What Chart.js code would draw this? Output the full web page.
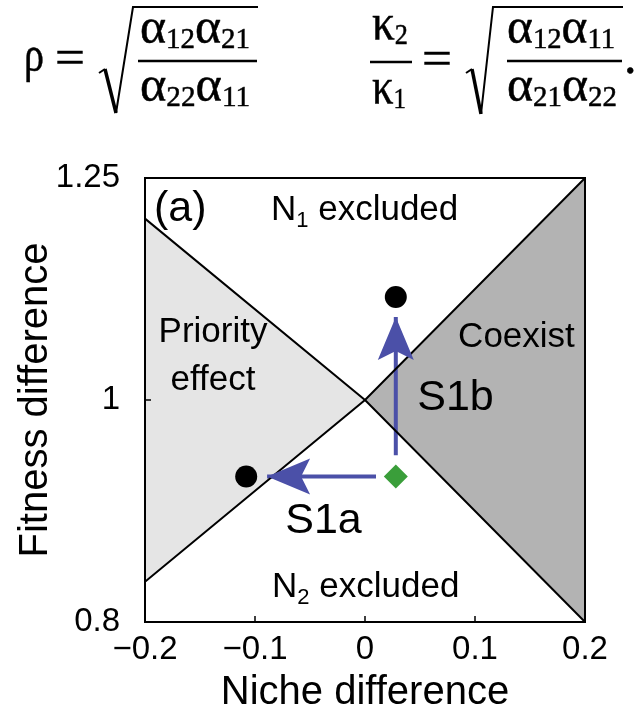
<!DOCTYPE html>
<html>
<head>
<meta charset="utf-8">
<script src="https://cdn.jsdelivr.net/npm/chart.js@4.4.0/dist/chart.umd.min.js"></script>
<style>
  html, body { margin: 0; padding: 0; background: #fff; }
  #wrap { position: relative; width: 641px; height: 717px; overflow: hidden; }
  #chart, #eq { position: absolute; left: 0; top: 0; }
  .m { font-family: 'Liberation Serif', 'Times New Roman', serif; font-size: 50px; fill: #000; stroke: #000; stroke-width: 0.5; }
  .s { font-size: 29px; }
</style>
</head>
<body>
<div id="wrap">
  <canvas id="chart" width="641" height="717"></canvas>
  <svg id="eq" width="641" height="150">
    <!-- rho = sqrt(a12 a21 / a22 a11) -->
    <text class="m" x="24" y="71" textLength="20" lengthAdjust="spacingAndGlyphs">ρ</text>
    <text class="m" x="55" y="74" textLength="30" lengthAdjust="spacingAndGlyphs">=</text>
    <path d="M99,73 L105,69" stroke="#000" stroke-width="2" fill="none"/>
    <path d="M105,69 L116,113" stroke="#000" stroke-width="3.5" fill="none"/>
    <path d="M116,113 L133,7 L258,7" stroke="#000" stroke-width="2" fill="none"/>
    <text class="m" x="140" y="43" textLength="110" lengthAdjust="spacingAndGlyphs">α<tspan class="s" dy="5">12</tspan><tspan dy="-5">α</tspan><tspan class="s" dy="5">21</tspan></text>
    <line x1="138" y1="61" x2="257" y2="61" stroke="#000" stroke-width="2.4"/>
    <text class="m" x="140" y="101" textLength="110" lengthAdjust="spacingAndGlyphs">α<tspan class="s" dy="5">22</tspan><tspan dy="-5">α</tspan><tspan class="s" dy="5">11</tspan></text>

    <!-- kappa2/kappa1 = sqrt(a12 a11 / a21 a22). -->
    <text class="m" x="372" y="39" textLength="36" lengthAdjust="spacingAndGlyphs">κ<tspan class="s" dy="5">2</tspan></text>
    <line x1="370" y1="62" x2="412" y2="62" stroke="#000" stroke-width="2.4"/>
    <text class="m" x="372" y="103" textLength="34" lengthAdjust="spacingAndGlyphs">κ<tspan class="s" dy="5">1</tspan></text>
    <text class="m" x="422" y="75" textLength="30" lengthAdjust="spacingAndGlyphs">=</text>
    <path d="M466,73 L472,69" stroke="#000" stroke-width="2" fill="none"/>
    <path d="M472,69 L481,114" stroke="#000" stroke-width="3.5" fill="none"/>
    <path d="M481,114 L493,7 L623,7" stroke="#000" stroke-width="2" fill="none"/>
    <text class="m" x="507" y="43" textLength="108" lengthAdjust="spacingAndGlyphs">α<tspan class="s" dy="5">12</tspan><tspan dy="-5">α</tspan><tspan class="s" dy="5">11</tspan></text>
    <line x1="507" y1="61" x2="622" y2="61" stroke="#000" stroke-width="2.4"/>
    <text class="m" x="507" y="101" textLength="110" lengthAdjust="spacingAndGlyphs">α<tspan class="s" dy="5">21</tspan><tspan dy="-5">α</tspan><tspan class="s" dy="5">22</tspan></text>
    <text class="m" x="624" y="73">.</text>
  </svg>
</div>
<script>
// axes
const nicheTicks = [-0.2, -0.1, 0, 0.1, 0.2];
const nicheTickLabels = ['\u22120.2', '\u22120.1', '0', '0.1', '0.2'];
const fitnessTicks = [0.8, 1, 1.25];
const fitnessTickLabels = ['0.8', '1', '1.25'];

// region boundaries: edge - crossing - edge
const boundaryNiche = [-0.2, 0, 0.2];
const boundaryFalling = [1.2, 1.0, 0.8];
const boundaryRising = [0.833, 1.0, 1.25];

// arrows S1a and S1b
const arrowS1aNiche = [0.010, -0.089];
const arrowS1aFitness = [0.926, 0.926];
const arrowS1bNiche = [0.028, 0.028];
const arrowS1bFitness = [0.946, 1.087];

// end points (black) and start point (green)
const endNiche = [-0.108, 0.028];
const endFitness = [0.926, 1.109];
const startNiche = [0.028];
const startFitness = [0.926];

const FONT = "'Liberation Sans', Arial, Helvetica, sans-serif";
const BLUE = '#4b50a8';

function pts(xs, ys) {
  return xs.map((x, i) => ({ x: x, y: ys[i] }));
}

// text inside the plot, placed in data coordinates
const plotLabels = [
  { x: -0.168, y: 1.197, align: 'center', parts: [{ t: '(a)', size: 43 }] },
  { x: -0.0855, y: 1.198, align: 'left', parts: [{ t: 'N', size: 35 }, { t: '1', size: 22, dy: 7 }, { t: ' excluded', size: 35 }] },
  { x: -0.0845, y: 0.820, align: 'left', parts: [{ t: 'N', size: 35 }, { t: '2', size: 22, dy: 7 }, { t: ' excluded', size: 35 }] },
  { x: -0.1382, y: 1.060, align: 'center', parts: [{ t: 'Priority', size: 35 }] },
  { x: -0.1382, y: 1.010, align: 'center', parts: [{ t: 'effect', size: 35 }] },
  { x: 0.1377, y: 1.055, align: 'center', parts: [{ t: 'Coexist', size: 35 }] },
  { x: 0.0823, y: 0.990, align: 'center', parts: [{ t: 'S1b', size: 43 }] },
  { x: -0.0377, y: 0.875, align: 'center', parts: [{ t: 'S1a', size: 43 }] }
];

const overlay = {
  id: 'overlay',
  afterDatasetsDraw(chart) {
    const c = chart.ctx;
    const xs = chart.scales.x, ys = chart.scales.y;
    const area = chart.chartArea;

    // arrow heads on the arrow datasets
    chart.data.datasets.forEach((ds, i) => {
      if (!ds.arrowHead) return;
      const el = chart.getDatasetMeta(i).data;
      const a = el[el.length - 2], b = el[el.length - 1];
      const ang = Math.atan2(b.y - a.y, b.x - a.x);
      const L = 43, W = 18, notch = 34;
      c.save();
      c.translate(b.x, b.y);
      c.rotate(ang);
      c.beginPath();
      c.moveTo(0, 0);
      c.lineTo(-L, -W);
      c.lineTo(-notch, 0);
      c.lineTo(-L, W);
      c.closePath();
      c.fillStyle = ds.borderColor;
      c.fill();
      c.restore();
    });

    // frame and inward ticks
    c.save();
    c.strokeStyle = '#000';
    c.lineWidth = 2;
    c.strokeRect(area.left, area.top, area.right - area.left, area.bottom - area.top);
    c.lineWidth = 1.5;
    c.beginPath();
    nicheTicks.slice(1, -1).forEach(v => {
      const px = xs.getPixelForValue(v);
      c.moveTo(px, area.bottom);
      c.lineTo(px, area.bottom - 6);
    });
    fitnessTicks.slice(1, -1).forEach(v => {
      const py = ys.getPixelForValue(v);
      c.moveTo(area.left, py);
      c.lineTo(area.left + 6, py);
    });
    c.stroke();
    c.restore();

    // labels
    c.save();
    c.fillStyle = '#000';
    c.textBaseline = 'alphabetic';
    c.textAlign = 'left';
    plotLabels.forEach(lb => {
      let w = 0;
      lb.parts.forEach(p => {
        c.font = p.size + 'px ' + FONT;
        w += c.measureText(p.t).width;
      });
      let px = xs.getPixelForValue(lb.x);
      const py = ys.getPixelForValue(lb.y);
      if (lb.align === 'center') px -= w / 2;
      lb.parts.forEach(p => {
        c.font = p.size + 'px ' + FONT;
        c.fillText(p.t, px, py + (p.dy || 0));
        px += c.measureText(p.t).width;
      });
    });
    c.restore();
  }
};

new Chart(document.getElementById('chart'), {
  type: 'line',
  data: {
    datasets: [
      {
        data: pts(boundaryNiche, boundaryFalling),
        borderColor: '#000', borderWidth: 2, pointRadius: 0, tension: 0,
        fill: { target: 1, above: '#e5e5e5', below: '#b3b3b3' }
      },
      {
        data: pts(boundaryNiche, boundaryRising),
        borderColor: '#000', borderWidth: 2, pointRadius: 0, tension: 0, fill: false
      },
      {
        data: pts(arrowS1aNiche, arrowS1aFitness),
        borderColor: BLUE, borderWidth: 4, pointRadius: 0, fill: false, arrowHead: true
      },
      {
        data: pts(arrowS1bNiche, arrowS1bFitness),
        borderColor: BLUE, borderWidth: 4, pointRadius: 0, fill: false, arrowHead: true
      },
      {
        data: pts(endNiche, endFitness), showLine: false,
        pointRadius: 11, pointBackgroundColor: '#000', pointBorderWidth: 0
      },
      {
        data: pts(startNiche, startFitness), showLine: false, pointStyle: 'rectRot',
        pointRadius: 12, pointBackgroundColor: '#3a9e3a', pointBorderWidth: 0
      }
    ]
  },
  options: {
    responsive: false,
    animation: false,
    devicePixelRatio: 1,
    events: [],
    layout: { padding: { top: 178, right: 56, bottom: 0, left: 0 } },
    plugins: {
      legend: { display: false },
      tooltip: { enabled: false },
      filler: { drawTime: 'beforeDatasetsDraw' }
    },
    scales: {
      x: {
        type: 'linear', min: -0.2, max: 0.2,
        afterBuildTicks: a => { a.ticks = nicheTicks.map(v => ({ value: v })); },
        afterFit: s => { s.height = 95; },
        ticks: {
          callback: (v, i) => nicheTickLabels[i],
          font: { family: FONT, size: 33 }, color: '#000',
          padding: 8, autoSkip: false, maxRotation: 0
        },
        grid: { display: false, drawTicks: false },
        border: { display: false },
        title: {
          display: true, text: 'Niche difference', color: '#000',
          font: { family: FONT, size: 40 }, padding: { top: 0, bottom: 0 }
        }
      },
      y: {
        type: 'logarithmic', min: 0.8, max: 1.25,
        afterBuildTicks: a => { a.ticks = fitnessTicks.map(v => ({ value: v })); },
        afterFit: s => { s.width = 145; },
        ticks: {
          callback: (v, i) => fitnessTickLabels[i],
          font: { family: FONT, size: 33 }, color: '#000',
          padding: 25, autoSkip: false
        },
        grid: { display: false, drawTicks: false },
        border: { display: false },
        title: {
          display: true, text: 'Fitness difference', color: '#000',
          font: { family: FONT, size: 40 }, padding: { top: 12, bottom: 0 }
        }
      }
    }
  },
  plugins: [overlay]
});
</script>
</body>
</html>
